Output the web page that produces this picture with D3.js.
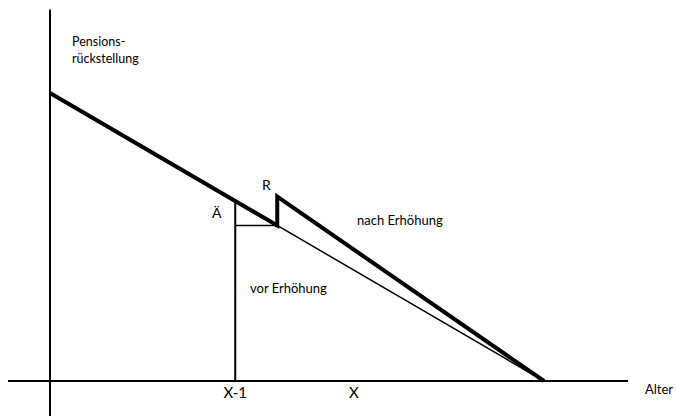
<!DOCTYPE html>
<html>
<head>
<meta charset="utf-8">
<script src="https://cdn.jsdelivr.net/npm/d3@7"></script>
<style>
  html, body { margin: 0; padding: 0; background: #fff; }
  svg { display: block; font-family: Lato, "Open Sans", sans-serif; }
</style>
</head>
<body>
<div id="chart"></div>
<script>
// Data (abstract units: age on x, provision on y)
const beforeLine = [ { age: 0, value: 100 }, { age: 100, value: 0 } ];             // vor Erhöhung
const afterLine  = [ { age: 0, value: 100 }, { age: 46, value: 54 },
                     { age: 46, value: 64 }, { age: 100, value: 0 } ];             // nach Erhöhung
const prevAge    = 37.5;   // X-1
const stepAge    = 46;
const tickLabels = ["X-1", "X"];
const tickAges   = [37.5, 61.5];

const W = 676, H = 416;

const x = d3.scaleLinear().domain([0, 100]).range([50, 544]);
const y = d3.scaleLinear().domain([0, 100]).range([381, 93]);

const svg = d3.select("#chart").append("svg")
  .attr("width", W).attr("height", H);

// Axes
svg.append("line")
  .attr("x1", x(-8.5)).attr("x2", x(117))
  .attr("y1", y(0)).attr("y2", y(0))
  .attr("stroke", "#000").attr("stroke-width", 2);

svg.append("line")
  .attr("x1", x(0)).attr("x2", x(0))
  .attr("y1", y(129)).attr("y2", y(-13))
  .attr("stroke", "#000").attr("stroke-width", 2);

// Ä marker lines
const lineAt = a => 100 - a;   // value of the original line at age a
svg.append("line")
  .attr("x1", x(prevAge)).attr("x2", x(prevAge))
  .attr("y1", y(0)).attr("y2", y(lineAt(prevAge)))
  .attr("stroke", "#000").attr("stroke-width", 2);

svg.append("line")
  .attr("x1", x(prevAge)).attr("x2", x(stepAge))
  .attr("y1", y(lineAt(stepAge))).attr("y2", y(lineAt(stepAge)))
  .attr("stroke", "#000").attr("stroke-width", 1.5);

const line = d3.line().x(d => x(d.age)).y(d => y(d.value));

// vor Erhöhung
svg.append("path")
  .datum(beforeLine)
  .attr("fill", "none").attr("stroke", "#000").attr("stroke-width", 1.5)
  .attr("d", line);

// nach Erhöhung
svg.append("path")
  .datum(afterLine)
  .attr("fill", "none").attr("stroke", "#000").attr("stroke-width", 4)
  .attr("stroke-linejoin", "miter")
  .attr("d", line);

// Tick labels
svg.selectAll(".tick-label")
  .data(tickLabels)
  .join("text")
    .attr("class", "tick-label")
    .attr("x", (d, i) => x(tickAges[i]))
    .attr("y", 398)
    .attr("text-anchor", "middle")
    .attr("font-size", 15)
    .text(d => d);

// Labels
svg.append("text").attr("x", 645).attr("y", 394)
  .attr("font-size", 13).text("Alter");

svg.append("text").attr("x", 72).attr("y", 46)
  .attr("font-size", 12.5).text("Pensions-");
svg.append("text").attr("x", 72).attr("y", 63)
  .attr("font-size", 12.5).text("rückstellung");

svg.append("text").attr("x", 262).attr("y", 190)
  .attr("font-size", 14).text("R");
svg.append("text").attr("x", 212).attr("y", 218)
  .attr("font-size", 14).text("Ä");

svg.append("text").attr("x", 357).attr("y", 225)
  .attr("font-size", 13).text("nach Erhöhung");
svg.append("text").attr("x", 250).attr("y", 293)
  .attr("font-size", 13).text("vor Erhöhung");
</script>
</body>
</html>
